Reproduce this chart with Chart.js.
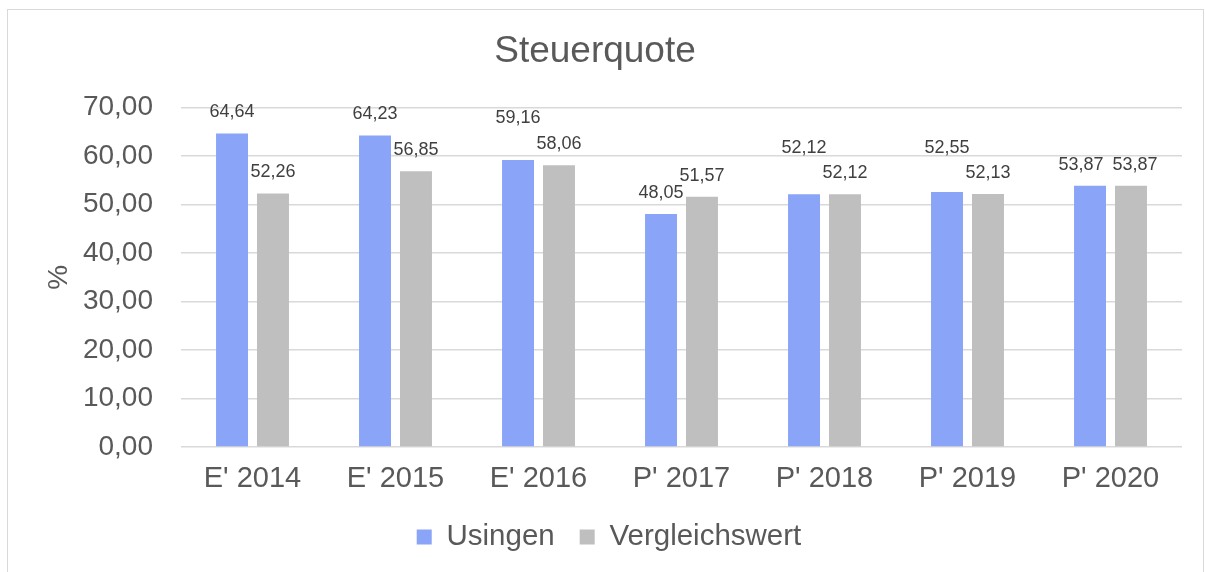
<!DOCTYPE html>
<html>
<head>
<meta charset="utf-8">
<script src="https://cdn.jsdelivr.net/npm/chart.js@4"></script>
<style>
  html, body { margin: 0; padding: 0; background: #ffffff; }
  #wrap { position: relative; width: 1205px; height: 572px; }
</style>
</head>
<body>
<div id="wrap"><canvas id="c" width="1205" height="572"></canvas></div>
<script>
const categories = ["E' 2014", "E' 2015", "E' 2016", "P' 2017", "P' 2018", "P' 2019", "P' 2020"];
const usingen = [64.64, 64.23, 59.16, 48.05, 52.12, 52.55, 53.87];
const vergleichswert = [52.26, 56.85, 58.06, 51.57, 52.12, 52.13, 53.87];
const yTicks = [0, 10, 20, 30, 40, 50, 60, 70];

// label nudges (styling only, in px) to mimic the reference's overlap avoidance
const usingenLabelNudgeY = [0, 0, -21, 0, -25, -23, 0];
const usingenLabelNudgeX = [0, 0, 0, 0, 0, 0, -9];
const vergleichLabelNudgeY = [0, 0, 0, 0, 0, 0, 0];
const vergleichLabelNudgeX = [0, 0, 0, 0, 0, 0, 4];

const FONT = "'Liberation Sans', Arial, sans-serif";
const fmt = v => Number(v).toFixed(2).replace('.', ',');

const borderPlugin = {
  id: 'outerBorder',
  beforeDraw(chart) {
    const ctx = chart.ctx;
    ctx.save();
    ctx.strokeStyle = '#d9d9d9';
    ctx.lineWidth = 1;
    ctx.strokeRect(7.5, 9.5, 1196, 620);
    ctx.restore();
  }
};

const legendShiftPlugin = {
  id: 'legendShift',
  afterLayout(chart) {
    if (chart.legend) {
      chart.legend.left += 14;
      chart.legend.right += 14;
    }
  }
};

const labelPlugin = {
  id: 'valueLabels',
  afterDatasetsDraw(chart) {
    const ctx = chart.ctx;
    const nx = [usingenLabelNudgeX, vergleichLabelNudgeX];
    const ny = [usingenLabelNudgeY, vergleichLabelNudgeY];
    ctx.save();
    ctx.font = '18px ' + FONT;
    ctx.fillStyle = '#404040';
    ctx.textAlign = 'center';
    ctx.textBaseline = 'middle';
    chart.data.datasets.forEach((ds, di) => {
      const meta = chart.getDatasetMeta(di);
      meta.data.forEach((bar, i) => {
        ctx.fillText(fmt(ds.data[i]), bar.x + nx[di][i], bar.y - 21 + ny[di][i]);
      });
    });
    ctx.restore();
  }
};

new Chart(document.getElementById('c'), {
  type: 'bar',
  data: {
    labels: categories,
    datasets: [
      { label: 'Usingen', data: usingen, backgroundColor: '#8aa5f7', categoryPercentage: 0.573, barPercentage: 0.78 },
      { label: 'Vergleichswert', data: vergleichswert, backgroundColor: '#bfbfbf', categoryPercentage: 0.573, barPercentage: 0.78 }
    ]
  },
  options: {
    responsive: false,
    animation: false,
    devicePixelRatio: 1,
    layout: { padding: { left: 8, right: 23, top: 0, bottom: 10.25 } },
    plugins: {
      title: {
        display: true,
        text: 'Steuerquote',
        color: '#595959',
        font: { family: FONT, size: 37, weight: 'normal' },
        padding: { top: 29.5, bottom: 33.5 }
      },
      legend: {
        position: 'bottom',
        labels: {
          color: '#595959',
          font: { family: FONT, size: 29.5 },
          boxWidth: 15,
          boxHeight: 15,
          padding: 25
        }
      },
      tooltip: { enabled: false }
    },
    scales: {
      x: {
        grid: { display: false, drawTicks: false },
        border: { display: false },
        ticks: { color: '#595959', font: { family: FONT, size: 29 }, padding: 15, maxRotation: 0 },
        afterFit(scale) { scale.height = 50.25; }
      },
      y: {
        min: 0,
        max: 70,
        afterBuildTicks(scale) { scale.ticks = yTicks.map(v => ({ value: v })); },
        grid: { color: '#d9d9d9', lineWidth: 1.5, drawTicks: false },
        border: { display: false },
        ticks: { color: '#595959', font: { family: FONT, size: 28 }, padding: 28, callback: v => fmt(v) },
        title: { display: true, text: '%', color: '#595959', font: { family: FONT, size: 28 }, padding: { top: 34, bottom: 0 } },
        afterFit(scale) { scale.width = 173; }
      }
    }
  },
  plugins: [borderPlugin, legendShiftPlugin, labelPlugin]
});
</script>
</body>
</html>
